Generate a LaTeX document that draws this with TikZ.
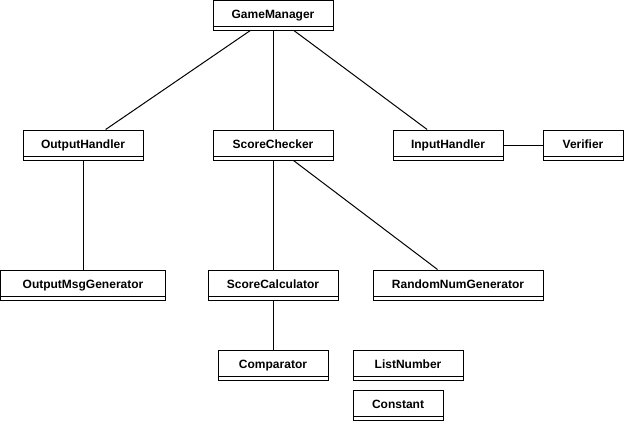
\documentclass[tikz,border=0pt]{standalone}
\usepackage{fontspec}
\setmainfont{Liberation Sans}
\usepackage{tikz}
\usetikzlibrary{positioning, calc}

\tikzset{
    cls/.style={draw, rectangle, line width=0.75pt, inner sep=0pt,
        minimum height=22.5pt, text height=7pt, text depth=2pt,
        font=\fontsize{9}{11}\selectfont\bfseries,
        path picture={\draw[line width=0.75pt]
            ([yshift=3pt]path picture bounding box.south west) --
            ([yshift=3pt]path picture bounding box.south east);}},
}

\begin{document}
\begin{tikzpicture}[x=0.75pt, y=-0.75pt, line width=0.75pt]
    \useasboundingbox (0,0) rectangle (624,421);

    \node[cls, minimum width=90pt] (gm) at (273,15) {GameManager};
    \node[cls, minimum width=90pt] (oh) at (83,145) {OutputHandler};
    \node[cls, minimum width=90pt] (sc) at (273,145) {ScoreChecker};
    \node[cls, minimum width=82.5pt] (ih) at (448,145) {InputHandler};
    \node[cls, minimum width=60pt] (ver) at (583,145) {Verifier};
    \node[cls, minimum width=123.75pt] (omg) at (83,285) {OutputMsgGenerator};
    \node[cls, minimum width=97.5pt] (calc) at (273,285) {ScoreCalculator};
    \node[cls, minimum width=127.5pt] (rng) at (458,285) {RandomNumGenerator};
    \node[cls, minimum width=82.5pt] (cmp) at (273,365) {Comparator};
    \node[cls, minimum width=82.5pt] (ln) at (408,365) {ListNumber};
    \node[cls, minimum width=67.5pt] (const) at (398,405) {Constant};

    \draw
        (gm) edge (oh)
        (gm) edge (sc)
        (gm) edge (ih)
        (ih) edge (ver)
        (oh) edge (omg)
        (sc) edge (calc)
        (sc) edge (rng)
        (calc) edge (cmp)
       ;
\end{tikzpicture}
\end{document}
